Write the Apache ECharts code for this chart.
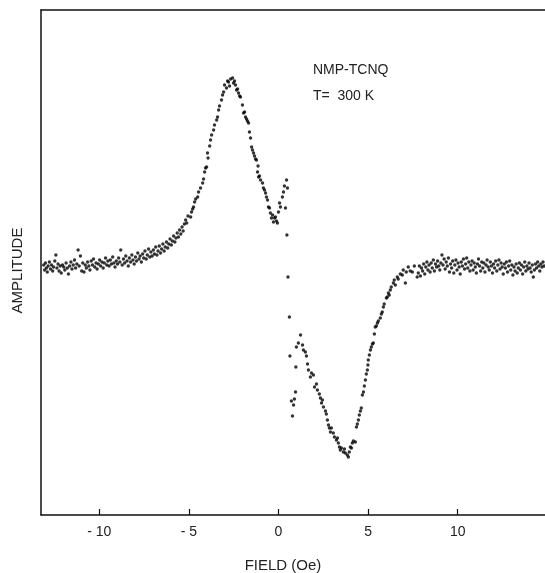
<!DOCTYPE html>
<html>
<head>
<meta charset="utf-8">
<script src="https://cdn.jsdelivr.net/npm/echarts@6/dist/echarts.min.js"></script>
<style>html,body{margin:0;padding:0;background:#fff}#c{width:545px;height:573px}</style>
</head>
<body>
<div id="c"></div>
<script>
// Field (Oe), amplitude (arb. units)
const xTicks = [-10, -5, 0, 5, 10];
const leftBaseline = [
[-13.10,0.3],[-13.05,-0.2],[-13.00,0.5],[-12.95,0.0],[-12.90,-0.4],[-12.85,0.2],[-12.78,0.6],[-12.72,-0.1],[-12.66,0.3],[-12.60,-0.3],
[-12.55,0.1],[-12.48,0.7],[-12.42,1.3],[-12.36,0.0],[-12.30,0.4],[-12.24,-0.3],[-12.18,0.2],[-12.12,-0.5],[-12.05,0.3],[-11.98,0.1],
[-11.92,-0.2],[-11.85,0.5],[-11.78,0.0],[-11.72,-0.6],[-11.65,0.2],[-11.58,0.6],[-11.52,-0.1],[-11.45,0.3],[-11.38,0.8],[-11.32,0.0],
[-11.25,0.4],[-11.18,1.8],[-11.12,0.2],[-11.05,1.2],[-10.98,-0.3],[-10.92,0.5],[-10.85,-0.4],[-10.78,0.3],[-10.72,0.0],[-10.65,0.6],
[-10.58,0.2],[-10.52,-0.2],[-10.45,0.7],[-10.38,0.3],[-10.32,0.9],[-10.25,0.1],[-10.18,0.5],[-10.12,-0.1],[-10.05,0.4],[-9.98,0.8],
[-9.92,0.2],[-9.85,0.6],[-9.78,0.0],[-9.72,0.5],[-9.65,1.0],[-9.58,0.3],[-9.52,0.7],[-9.45,0.2],[-9.38,0.8],[-9.32,0.4],
[-9.25,1.1],[-9.18,0.5],[-9.12,0.1],[-9.05,0.7],[-8.98,0.4],[-8.92,1.0],[-8.85,0.6],[-8.80,1.8],[-8.72,0.3],[-8.65,0.9],
[-8.58,0.5],[-8.52,1.2],[-8.45,0.7],[-8.38,0.2],[-8.32,1.0],[-8.25,0.6],[-8.18,1.3],[-8.12,0.8],[-8.05,0.4],[-7.98,1.1],
[-7.92,0.7],[-7.85,1.5],[-7.78,0.9],[-7.72,1.2],[-7.65,0.6],[-7.58,1.4],[-7.52,1.0],[-7.45,1.7],[-7.38,0.9],[-7.32,1.3],
[-7.25,1.9],[-7.18,1.1],[-7.12,1.6],[-7.05,1.2],[-6.98,1.8],[-6.92,1.4],[-6.85,2.1],[-6.78,1.3],[-6.72,1.7],[-6.65,2.2],
[-6.58,1.5],[-6.52,1.9],[-6.45,2.4],[-6.38,1.7],[-6.32,2.1],[-6.25,2.6],[-6.18,2.0],[-6.12,2.4],[-6.05,2.9],[-5.98,2.3],
[-5.92,2.7],[-5.85,3.2],[-5.78,2.6],[-5.72,3.0],[-5.65,3.5],[-5.58,3.1],[-5.52,3.8],[-5.45,3.4],[-5.38,4.1],[-5.32,3.7],
[-5.25,4.4],[-5.18,4.8],[-5.12,4.5],[-5.05,5.2]
];
const signal = [
[-4.90,5.1],[-4.85,5.6],[-4.79,5.9],[-4.74,6.1],[-4.68,6.6],[-4.62,6.9],[-4.51,7.1],[-4.46,7.6],[-4.35,8.0],[-4.23,8.5],
[-4.18,8.9],[-4.12,9.6],[-4.07,10.0],[-4.01,10.1],[-3.96,11.5],[-3.93,11.0],[-3.84,12.2],[-3.79,12.8],[-3.73,13.3],[-3.62,13.8],
[-3.57,14.3],[-3.45,14.8],[-3.40,15.1],[-3.34,15.8],[-3.29,16.2],[-3.18,16.8],[-3.12,17.3],[-3.06,17.6],[-3.01,18.3],[-2.90,18.0],
[-2.84,18.7],[-2.79,18.6],[-2.73,18.2],[-2.67,18.9],[-2.56,19.0],[-2.51,18.5],[-2.45,18.7],[-2.40,18.3],[-2.34,17.8],[-2.28,17.9],
[-2.23,17.5],[-2.17,17.2],[-2.12,17.1],[-2.01,16.3],[-1.95,15.5],[-1.89,15.6],[-1.84,15.1],[-1.78,14.9],[-1.73,14.7],[-1.67,14.5],
[-1.62,13.6],[-1.56,13.0],[-1.50,12.1],[-1.45,11.8],[-1.39,11.5],[-1.34,11.2],[-1.28,10.9],[-1.23,10.8],[-1.17,9.6],[-1.14,10.2],
[-1.11,9.1],[-1.06,9.2],[-1.00,8.8],[-0.89,8.5],[-0.84,8.0],[-0.78,7.8],[-0.72,7.5],[-0.67,7.1],[-0.61,6.8],[-0.56,6.1],
[-0.50,6.0],[-0.45,5.5],[-0.39,5.0],[-0.33,5.3],[-0.28,4.6],[-0.22,5.0],[-0.17,5.1],[-0.11,4.7],[-0.06,4.5],[0.00,5.6],
[0.06,6.5],[0.11,6.1],[0.22,7.1],[0.28,7.6],[0.33,8.2],[0.39,6.0],[0.45,8.8],[0.50,8.0],[0.47,3.3],[0.53,-0.9],
[0.61,-4.9],[0.64,-8.8],[0.72,-13.3],[0.78,-14.8],[0.84,-13.7],[0.89,-13.1],[0.95,-12.4],[0.97,-9.9],[1.00,-7.9],[1.11,-7.5],
[1.23,-6.7],[1.34,-7.7],[1.39,-8.2],[1.50,-8.4],[1.56,-8.8],[1.62,-9.6],[1.67,-10.2],[1.78,-10.9],[1.84,-10.5],[1.95,-10.7],
[2.01,-11.9],[2.12,-11.6],[2.17,-12.2],[2.28,-12.6],[2.34,-13.0],[2.40,-13.5],[2.45,-13.2],[2.51,-13.9],[2.62,-14.3],[2.67,-14.6],
[2.73,-15.2],[2.79,-15.7],[2.84,-16.0],[2.90,-16.4],[2.95,-16.0],[3.06,-16.5],[3.12,-16.9],[3.23,-17.2],[3.29,-17.0],[3.34,-17.5],
[3.40,-17.9],[3.45,-18.2],[3.51,-18.0],[3.62,-18.4],[3.68,-18.1],[3.73,-18.5],[3.84,-18.7],[3.90,-18.9],[3.95,-18.4],[4.01,-17.9],
[4.07,-18.0],[4.12,-17.5],[4.18,-17.3],[4.29,-17.4],[4.35,-15.9],[4.40,-15.6],[4.46,-15.2],[4.51,-14.7],[4.57,-14.3],[4.62,-14.0],
[4.68,-12.7],[4.74,-12.4],[4.79,-11.8],[4.85,-11.2],[4.90,-10.6],[4.96,-10.2],[4.99,-9.7],[5.01,-9.2],[5.07,-8.7],[5.13,-8.2],
[5.18,-7.9],[5.24,-7.6],[5.29,-7.5],[5.35,-6.6],[5.40,-5.9],[5.46,-5.8],[5.52,-5.5],[5.57,-5.3],[5.68,-5.0],[5.74,-4.6],
[5.79,-4.4],[5.85,-3.9],[5.90,-3.6],[6.02,-3.0],[6.07,-2.9],[6.13,-2.5],[6.18,-2.7],[6.24,-2.2],[6.29,-1.9],[6.41,-1.5],
[6.46,-1.2],[6.52,-1.7],[6.63,-0.9],[6.68,-1.1],[6.80,-0.6],[6.91,-0.7],[6.96,-0.2],[7.08,-1.5],[7.13,-0.4],[7.24,0.1],
[7.35,-0.3],[7.47,-0.4],[7.58,0.2],[7.74,-0.9]
];
const rightBaseline = [
[7.80,-0.5],[7.86,0.2],[7.92,-0.8],[7.98,0.0],[8.04,-0.3],[8.10,0.4],[8.16,-0.6],[8.22,0.1],[8.28,0.6],[8.34,-0.2],
[8.40,0.3],[8.46,-0.4],[8.52,0.5],[8.58,0.0],[8.64,0.8],[8.70,-0.3],[8.76,0.4],[8.82,0.1],[8.88,0.7],[8.94,0.2],
[9.00,-0.2],[9.06,0.5],[9.12,1.3],[9.18,0.3],[9.24,0.9],[9.30,-0.1],[9.36,0.6],[9.42,0.2],[9.48,1.0],[9.54,-0.4],
[9.60,0.4],[9.66,0.0],[9.72,0.7],[9.78,-0.5],[9.84,0.3],[9.90,0.8],[9.96,-0.2],[10.02,0.5],[10.08,0.1],[10.14,-0.6],
[10.20,0.6],[10.26,0.2],[10.32,0.9],[10.38,-0.1],[10.44,0.4],[10.50,1.0],[10.56,0.0],[10.62,0.6],[10.68,-0.3],[10.74,0.3],
[10.80,0.7],[10.86,-0.2],[10.92,0.5],[10.98,0.1],[11.04,-0.5],[11.10,0.4],[11.16,0.9],[11.22,0.2],[11.28,-0.3],[11.34,0.6],
[11.40,0.0],[11.46,0.5],[11.52,-0.4],[11.58,0.3],[11.64,0.8],[11.70,0.1],[11.76,-0.2],[11.82,0.6],[11.88,0.2],[11.94,-0.5],
[12.00,0.4],[12.06,0.0],[12.12,0.7],[12.18,-0.3],[12.24,0.3],[12.30,0.8],[12.36,-0.1],[12.42,0.5],[12.48,0.1],[12.54,-0.6],
[12.60,0.4],[12.66,0.0],[12.72,0.6],[12.78,-0.4],[12.84,0.2],[12.90,0.7],[12.96,-0.2],[13.02,0.3],[13.08,-0.7],[13.14,0.1],
[13.20,-0.3],[13.26,0.4],[13.32,-0.5],[13.38,0.0],[13.44,0.5],[13.50,-0.2],[13.56,0.3],[13.62,-0.6],[13.68,0.1],[13.74,0.6],
[13.80,-0.3],[13.86,0.2],[13.92,-0.1],[13.98,0.5],[14.04,0.0],[14.10,-0.4],[14.16,0.3],[14.22,-0.9],[14.28,-0.2],[14.34,0.4],
[14.40,0.0],[14.46,0.6],[14.52,0.2],[14.58,-0.3],[14.64,0.4],[14.70,0.1],[14.76,0.6],[14.82,0.2]
];

const FONT = 'Liberation Sans';
const chart = echarts.init(document.getElementById('c'), null, {renderer: 'canvas'});
chart.setOption({
  animation: false,
  backgroundColor: '#fff',
  grid: {left: 41, right: 0, top: 10, bottom: 58, containLabel: false, outerBoundsMode: 'none'},
  xAxis: [{
    type: 'value', min: -13.25, max: 14.87, position: 'bottom',
    name: 'FIELD (Oe)', nameLocation: 'middle', nameGap: 43,
    nameTextStyle: {fontFamily: FONT, fontSize: 15, color: '#222', padding: [0, 20, 0, 0]},
    axisLine: {show: true, onZero: false, lineStyle: {color: '#111', width: 1.5}},
    axisTick: {show: true, inside: true, length: 6, customValues: xTicks, lineStyle: {color: '#111', width: 1.2}},
    axisLabel: {show: true, customValues: xTicks, margin: 10, fontFamily: FONT, fontSize: 14, color: '#222',
      formatter: v => v < 0 ? '- ' + Math.abs(v) : String(v)},
    splitLine: {show: false}
  }, {
    type: 'value', min: -13.25, max: 14.87, position: 'top',
    axisLine: {show: true, onZero: false, lineStyle: {color: '#111', width: 1.5}},
    axisTick: {show: false}, axisLabel: {show: false}, splitLine: {show: false}
  }],
  yAxis: {
    type: 'value', min: -24.7, max: 25.8,
    name: 'AMPLITUDE', nameLocation: 'middle', nameGap: 16, nameRotate: 90,
    nameTextStyle: {fontFamily: FONT, fontSize: 15, color: '#222', padding: [0, 16, 0, 0]},
    axisLine: {show: true, onZero: false, lineStyle: {color: '#111', width: 1.5}},
    axisTick: {show: false}, axisLabel: {show: false}, splitLine: {show: false}
  },
  graphic: [
    {type: 'text', left: 313, top: 63, style: {text: 'NMP-TCNQ', font: '14px "Liberation Sans"', fill: '#222'}},
    {type: 'text', left: 313, top: 89, style: {text: 'T=  300 K', font: '14px "Liberation Sans"', fill: '#222'}}
  ],
  series: [{
    type: 'scatter', xAxisIndex: 0, symbol: 'circle', symbolSize: 3.4,
    itemStyle: {color: '#000'},
    data: leftBaseline.concat(signal, rightBaseline)
  }]
});
</script>
</body>
</html>
